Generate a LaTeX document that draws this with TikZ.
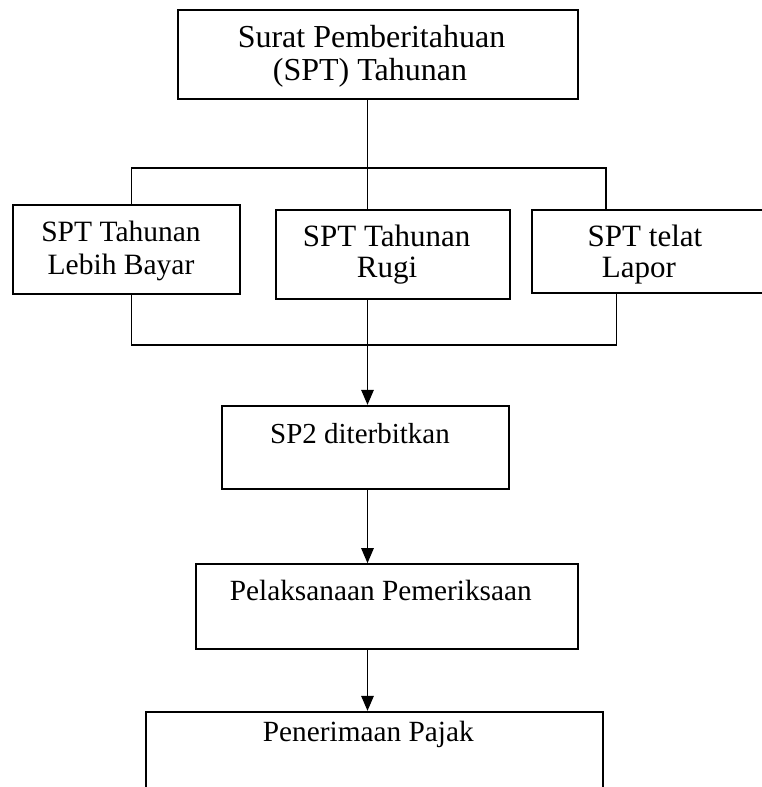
\documentclass[tikz,border=0pt]{standalone}
\usepackage{fontspec}
\setmainfont{Liberation Serif}
\usetikzlibrary{arrows.meta}
\begin{document}
\begin{tikzpicture}[x=1pt,y=-1pt,line width=1.3pt,
  box/.style={draw,line width=1.7pt,inner sep=0pt},
  lbl/.style={inner sep=0pt,anchor=base},
  big/.style={lbl,font=\fontsize{32}{33}\selectfont},
  mids/.style={lbl,font=\fontsize{31}{33}\selectfont},
  small/.style={lbl,font=\fontsize{29.3}{33}\selectfont},
  arr/.style={-{Triangle[length=15pt,width=12.5pt]}}]
\useasboundingbox (0,0) rectangle (762,787);
\clip (0,0) rectangle (762,787);
% boxes
\node[box,minimum width=400pt,minimum height=89.3pt] (top) at (378.3,54.65) {};
\node[box,minimum width=226.7pt,minimum height=89pt] (left) at (126.65,249.5) {};
\node[box,minimum width=234pt,minimum height=89pt] (mid) at (393,254.5) {};
\node[box,minimum width=242.7pt,minimum height=82.7pt] (right) at (653.65,251.35) {};
\node[box,minimum width=287pt,minimum height=83.6pt] (sp2) at (365.8,447.5) {};
\node[box,minimum width=382.6pt,minimum height=85.3pt] (pel) at (387,606.65) {};
\node[box,minimum width=457.6pt,minimum height=108.3pt] (pen) at (374.5,765.85) {};
% texts
\node[big] (topa) at (371.5,47) {Surat Pemberitahuan};
\node[big] (topb) at (370,80) {(SPT) Tahunan};
\node[small,font=\fontsize{29.5}{33}\selectfont] (lefta) at (121,241.7) {SPT Tahunan};
\node[small,font=\fontsize{29.5}{33}\selectfont] (leftb) at (121,274) {Lebih Bayar};
\node[mids] (mida) at (386.7,246.7) {SPT Tahunan};
\node[mids] (midb) at (387,277.3) {Rugi};
\node[mids] (righta) at (645,246.7) {SPT telat};
\node[mids] (rightb) at (639,277.3) {Lapor};
\node[small,font=\fontsize{29}{33}\selectfont] (sp2t) at (360,443.3) {SP2 diterbitkan};
\node[small] (pelt) at (380.8,600) {Pelaksanaan Pemeriksaan};
\node[small] (pent) at (368.3,741.7) {Penerimaan Pajak};
% junctions
\coordinate (j1) at (367.5,168);
\coordinate (jl) at (131.7,168);
\coordinate (jr) at (606,168);
\coordinate (k1) at (367.5,345);
\coordinate (kl) at (131.7,345);
\coordinate (kr) at (616.7,345);
% connectors
\draw (top.south -| j1) -- (j1) -- (mid.north -| j1);
\draw (left.north -| jl) -- (jl) -- (jr) -- (right.north -| jr);
\draw (left.south -| kl) -- (kl) -- (kr) -- (right.south -| kr);
\draw[arr] (mid.south -| k1) -- (sp2.north -| k1);
\draw[arr] (sp2.south -| k1) -- (pel.north -| k1);
\draw[arr] (pel.south -| k1) -- (pen.north -| k1);
\end{tikzpicture}
\end{document}
